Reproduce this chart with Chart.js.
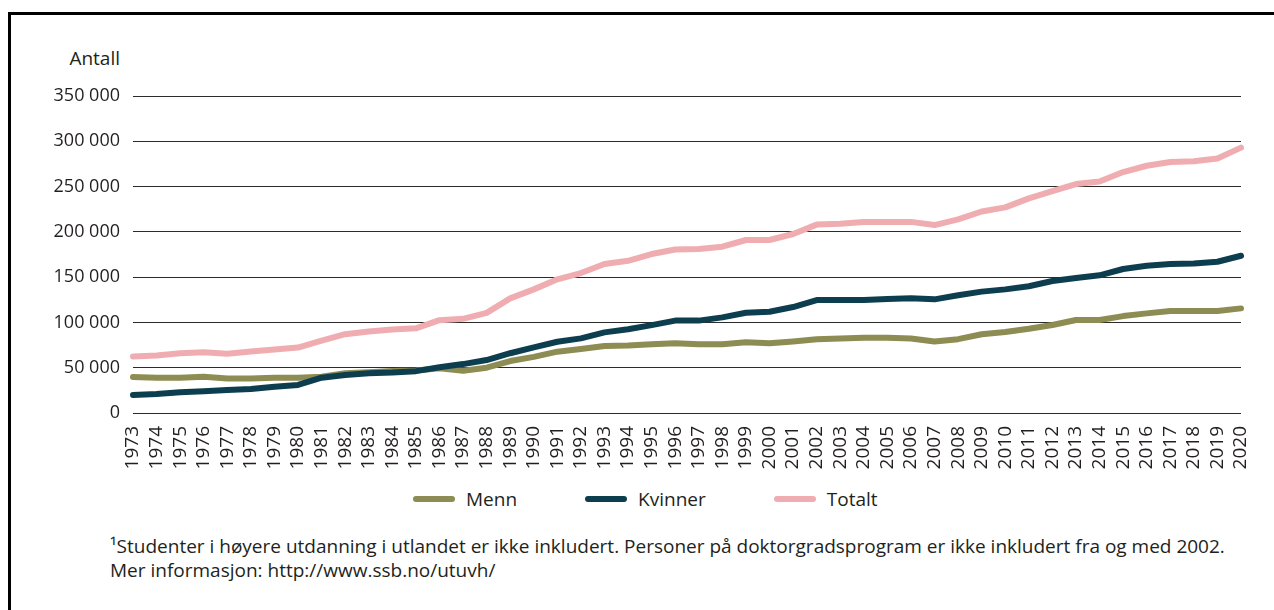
<!DOCTYPE html>
<html>
<head>
<meta charset="utf-8">
<script src="https://cdn.jsdelivr.net/npm/chart.js@4.4.1/dist/chart.umd.min.js"></script>
<style>
  html, body { margin: 0; padding: 0; background: #fff; }
  body { width: 1274px; height: 610px; position: relative; overflow: hidden; font-family: "Open Sans", sans-serif; color: #231f20; }
  #frame { position: absolute; left: 8px; top: 12px; width: 1300px; height: 700px; border-top: 3px solid #000; border-left: 3px solid #000; }
  #wrap { position: absolute; left: 0; top: 0; width: 1274px; height: 475px; }
  #ytitle { position: absolute; right: calc(1274px - 120px); top: 45px; font-size: 19px; }
  #legend { position: absolute; left: 413px; top: 486px; display: flex; align-items: center; font-size: 19px; }
  .item { display: flex; align-items: center; margin-right: 68px; }
  .sw { width: 42px; height: 6px; border-radius: 3px; margin-right: 11px; }
  #note { position: absolute; left: 110px; top: 534px; font-size: 19px; line-height: 24px; }
</style>
</head>
<body>
<div id="frame"></div>
<div id="ytitle">Antall</div>
<div id="wrap"><canvas id="c"></canvas></div>
<div id="legend"></div>
<div id="note">¹Studenter i høyere utdanning i utlandet er ikke inkludert. Personer på doktorgradsprogram er ikke inkludert fra og med 2002.<br>Mer informasjon: http://www.ssb.no/utuvh/</div>
<script>
const years = ["1973","1974","1975","1976","1977","1978","1979","1980","1981","1982","1983","1984","1985","1986","1987","1988","1989","1990","1991","1992","1993","1994","1995","1996","1997","1998","1999","2000","2001","2002","2003","2004","2005","2006","2007","2008","2009","2010","2011","2012","2013","2014","2015","2016","2017","2018","2019","2020"];
const menn = [39700,38800,38800,40000,38000,38000,39000,39000,40000,43800,45000,46400,47000,49300,46700,50000,57400,62000,67700,70600,74000,74500,76000,77000,75800,76000,78000,77000,79000,81500,82200,83000,83200,82300,79000,81500,87000,89500,93000,97200,102700,102700,107000,110000,112600,112600,112600,115500];
const kvinner = [20000,21000,23000,24000,25300,26500,29000,31000,39000,42000,43800,44600,46200,50500,54000,58500,66000,72500,78700,82400,89000,92400,97000,102000,102000,105600,110700,111800,117000,124700,124700,124700,125800,126600,125500,130000,134000,136500,140000,145700,149000,152000,159000,162600,164500,165000,167000,173600];
const totalt = [62500,63500,66000,67000,65500,68000,70200,72200,80000,87000,90000,92300,93500,102500,104000,110500,126600,136500,147600,154500,164500,168000,175500,180500,181000,183600,191000,191000,197600,208000,209000,211000,211000,211000,207500,213800,222500,227000,237000,245000,252800,255500,266000,273000,277200,278000,281000,293000];
const yTicks = [0,50000,100000,150000,200000,250000,300000,350000];
const seriesNames = ["Menn","Kvinner","Totalt"];
const seriesColors = ["#8d8c52","#0d3e50","#f0adb1"];

const fmt = v => String(v).replace(/\B(?=(\d{3})+(?!\d))/g, " ");

const lg = document.getElementById('legend');
seriesNames.forEach((n,i)=>{
  const d=document.createElement('div'); d.className='item';
  d.innerHTML='<div class="sw" style="background:'+seriesColors[i]+'"></div><span>'+n+'</span>';
  lg.appendChild(d);
});

const mk = (label, data, color) => ({label, data, borderColor: color, backgroundColor: color, borderWidth: 6, pointRadius: 0, tension: 0, borderCapStyle: 'round', borderJoinStyle: 'round', fill: false});

new Chart(document.getElementById('c'), {
  type: 'line',
  data: { labels: years, datasets: [mk(seriesNames[2], totalt, seriesColors[2]), mk(seriesNames[1], kvinner, seriesColors[1]), mk(seriesNames[0], menn, seriesColors[0])] },
  options: {
    responsive: true, maintainAspectRatio: false, animation: false,
    layout: { padding: { top: 96, right: 33, left: 0, bottom: 0 } },
    plugins: { legend: { display: false }, tooltip: { enabled: false } },
    scales: {
      x: {
        offset: false,
        grid: { display: false, drawTicks: false },
        border: { display: false },
        ticks: { autoSkip: false, minRotation: 90, maxRotation: 90, padding: 13, color: '#231f20', font: { family: 'Open Sans', size: 19 } },
        afterFit: s => { s.height = 62; s.paddingLeft = 0; s.paddingRight = 0; }
      },
      y: {
        min: 0, max: 350000,
        afterBuildTicks: s => { s.ticks = yTicks.map(v => ({value: v})); },
        grid: { color: '#2b2b2b', lineWidth: 1, drawTicks: false },
        border: { display: false },
        ticks: { padding: 13, color: '#231f20', font: { family: 'Open Sans', size: 18 }, callback: v => fmt(v) },
        afterFit: s => { s.width = 133; }
      }
    }
  }
});
</script>
</body>
</html>
